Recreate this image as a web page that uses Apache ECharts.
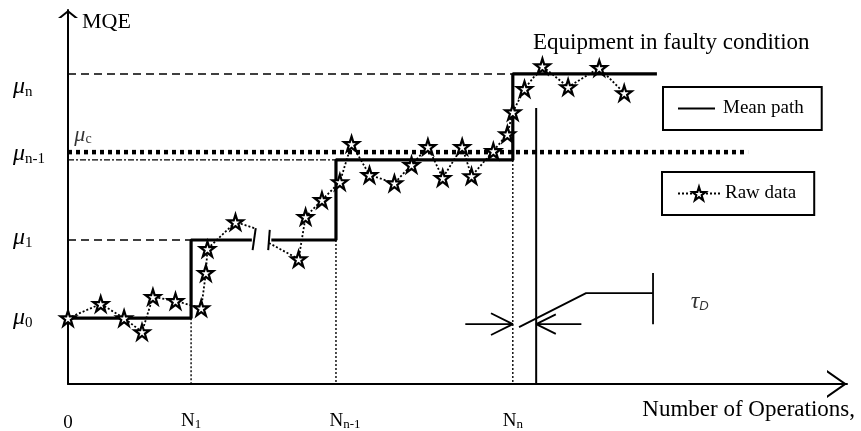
<!DOCTYPE html>
<html>
<head>
<meta charset="utf-8">
<script src="https://cdn.jsdelivr.net/npm/echarts@6/dist/echarts.min.js"></script>
<style>
  html, body { margin: 0; padding: 0; background: #ffffff; }
  #chart { width: 861px; height: 431px; }
</style>
</head>
<body>
<div id="chart"></div>
<script>
// MQE degradation schematic: operation count on x, MQE on y (0..100 chart units)
const changePoints = [15.8, 34.4, 57.1];            // N1, Nn-1, Nn
const changeSubs = ['1', 'n-1', 'n'];
const meanLevels = [17.6, 38.5, 59.9, 82.9];        // μ0, μ1, μn-1, μn
const levelSubs = ['0', '1', 'n-1', 'n'];
const meanPathEnd = 75.6;
const axisBreak = [23.6, 26.1];
const criticalLevel = 62.0;                         // μc
const criticalLineEnd = 87.3;
const faultOnset = 60.1;
const faultLineTop = 73.8;

// raw MQE samples
const rawX = [0, 4.2, 7.2, 9.5, 10.9, 13.8, 17.1, 17.7, 17.9, 21.5,
              29.6, 30.5, 32.6, 34.9, 36.4, 38.7, 41.9, 44.1, 46.2, 48.1,
              50.6, 51.8, 54.6, 56.4, 57.1, 58.6, 60.9, 64.2, 68.2, 71.4];
const rawY = [17.6, 21.4, 17.6, 13.9, 23.3, 22.2, 20.3, 29.7, 36.1, 43.3,
              33.4, 44.7, 49.2, 54.0, 64.2, 55.9, 53.7, 58.6, 63.4, 55.1,
              63.4, 55.6, 62.3, 66.8, 72.7, 78.9, 85.0, 79.4, 84.5, 77.8];
const rawBreakAfter = 9;
const rawBreakEnds = [[23.9, 41.7], [25.8, 37.7]];
const breakMarks = [[[24.1, 41.7], [23.7, 35.8]], [[25.9, 41.2], [25.7, 35.8]]];

// detection delay τD
const delayY = 16.0;
const delayArrowTails = [51.0, 65.9];
const delayLeader = [[57.9, 15.2], [66.5, 24.3], [75.1, 24.3]];
const delayTick = [[75.1, 29.7], [75.1, 16.0]];
const delayLabelAt = [81.1, 21.9];
const criticalLabelAt = [0.3, 66.6];

const FONT = '"Liberation Serif", "Times New Roman", serif';
const BLACK = '#000000';
const STAR = 'path://M50,0 L61.2,34.5 L97.6,34.5 L68.2,55.9 L79.4,90.5 L50,69.1 L20.6,90.5 L31.8,55.9 L2.4,34.5 L38.8,34.5 Z';
const X_HEAD = 'path://M0,20 L14,0 L28,20 L25.6,20 L14,3.5 L2.4,20 Z';
const Y_HEAD = 'path://M0,8 L10,0 L20,8 L16.8,8 L10,2.6 L3.2,8 Z';

// stepped mean path with a gap at the axis break
const meanPath = [[0, meanLevels[0]]];
changePoints.forEach((x, i) => {
  meanPath.push([x, meanLevels[i]]);
  meanPath.push([x, meanLevels[i + 1]]);
  if (i === 0) {
    meanPath.push([axisBreak[0], meanLevels[1]]);
    meanPath.push([null, null]);
    meanPath.push([axisBreak[1], meanLevels[1]]);
  }
});
meanPath.push([meanPathEnd, meanLevels[3]]);

const rawData = [];
rawX.forEach((x, i) => {
  rawData.push([x, rawY[i]]);
  if (i === rawBreakAfter) {
    rawData.push({ value: rawBreakEnds[0], symbol: 'none' });
    rawData.push([null, null]);
    rawData.push({ value: rawBreakEnds[1], symbol: 'none' });
  }
});

const gap = [null, null];
const dropLines = [
  [changePoints[0], meanLevels[0]], [changePoints[0], 0], gap,
  [changePoints[1], meanLevels[1]], [changePoints[1], 0], gap,
  [changePoints[2], meanLevels[2]], [changePoints[2], 0]
];

const headLen = 2.8, headHalf = 2.9;
const delayLines = [
  [delayArrowTails[0], delayY], [changePoints[2], delayY], gap,
  [changePoints[2] - headLen, delayY + headHalf], [changePoints[2], delayY], [changePoints[2] - headLen, delayY - headHalf], gap,
  [delayArrowTails[1], delayY], [faultOnset, delayY], gap,
  [faultOnset + headLen * 0.9, delayY + headHalf * 0.9], [faultOnset, delayY], [faultOnset + headLen * 0.9, delayY - headHalf * 0.9], gap,
  ...delayLeader, gap,
  ...delayTick
];

function plainLine(data, lineStyle, extra) {
  return Object.assign({
    type: 'line', data: data, symbol: 'none', silent: true, animation: false,
    lineStyle: Object.assign({ color: BLACK }, lineStyle)
  }, extra || {});
}

// y labels: per-label vertical shift (px) and subscript drop
const yShift = [0, -2, -6, 13];
const yRich = {};
levelSubs.forEach((s, i) => {
  const sh = yShift[i];
  yRich['m' + i] = { fontFamily: FONT, fontStyle: 'italic', fontSize: 24, color: BLACK,
    padding: sh >= 0 ? [2 * sh, 0, 0, 0] : [0, 0, -2 * sh, 0] };
  const ss = sh + 5;
  yRich['s' + i] = { fontFamily: FONT, fontSize: 15, color: BLACK,
    padding: ss >= 0 ? [2 * ss, 0, 0, 0] : [0, 0, -2 * ss, 0] };
});

const xRich = {
  z: { fontFamily: FONT, fontSize: 19, color: BLACK, padding: [3, 0, 0, 0] },
  n: { fontFamily: FONT, fontSize: 19, color: BLACK },
  nw: { fontFamily: FONT, fontSize: 19, color: BLACK, padding: [0, 0, 0, 18] },
  s: { fontFamily: FONT, fontSize: 13, color: BLACK, padding: [7, 0, 0, 0] }
};

const option = {
  backgroundColor: '#ffffff',
  animation: false,
  title: {
    text: 'Equipment in faulty condition',
    left: 533, top: 31, padding: 0,
    textStyle: { fontFamily: FONT, fontSize: 23, fontWeight: 'normal', color: BLACK }
  },
  legend: [
    {
      data: ['Mean path'], left: 663, top: 87, orient: 'horizontal',
      selectedMode: false, borderColor: BLACK, borderWidth: 2, borderRadius: 0,
      padding: [12, 18, 12, 15], itemWidth: 37, itemHeight: 2, icon: 'rect',
      itemStyle: { color: BLACK },
      textStyle: { fontFamily: FONT, fontSize: 19, color: BLACK, padding: [0, 0, 0, 3] }
    },
    {
      data: ['Raw data'], left: 662, top: 172, orient: 'horizontal',
      selectedMode: false, borderColor: BLACK, borderWidth: 2, borderRadius: 0,
      padding: [12, 18, 12, 15], itemWidth: 42, itemHeight: 17,
      textStyle: { fontFamily: FONT, fontSize: 19, color: BLACK }
    }
  ],
  grid: { left: 68, right: 14, top: 10, bottom: 47, containLabel: false, outerBoundsMode: 'none' },
  xAxis: {
    type: 'value', min: 0, max: 100,
    name: '{a|Number of Operations,}', nameLocation: 'end', nameGap: 8,
    nameTextStyle: { align: 'right', verticalAlign: 'middle',
      rich: { a: { fontFamily: FONT, fontSize: 23, color: BLACK, padding: [52, 0, 0, 0] } } },
    axisLine: { show: true, lineStyle: { color: BLACK, width: 2 }, symbol: ['none', X_HEAD], symbolSize: [28, 20], symbolOffset: [0, -10] },
    axisTick: { show: false },
    splitLine: { show: false },
    axisLabel: {
      show: true, margin: 27, customValues: [0].concat(changePoints),
      formatter: function (v) {
        const i = changePoints.indexOf(v);
        if (i < 0) return '{z|0}';
        return (i === 1 ? '{nw|N}' : '{n|N}') + '{s|' + changeSubs[i] + '}';
      },
      rich: xRich
    }
  },
  yAxis: {
    type: 'value', min: 0, max: 100,
    name: 'MQE', nameLocation: 'end', nameGap: -12,
    nameTextStyle: { fontFamily: FONT, fontSize: 22, color: BLACK, align: 'left', verticalAlign: 'middle', padding: [0, 0, 0, 14] },
    axisLine: { show: true, lineStyle: { color: BLACK, width: 2 }, symbol: ['none', Y_HEAD], symbolSize: [20, 8], symbolOffset: [0, -4] },
    axisTick: { show: false },
    splitLine: { show: false },
    axisLabel: {
      show: true, margin: 55, align: 'left', customValues: meanLevels,
      formatter: function (v) {
        const i = meanLevels.indexOf(v);
        return '{m' + i + '|μ}{s' + i + '|' + levelSubs[i] + '}';
      },
      rich: yRich
    }
  },
  series: [
    plainLine([[0, meanLevels[3]], [changePoints[2], meanLevels[3]]], { width: 1.4, type: [8, 5] }),
    plainLine([[0, meanLevels[2]], [changePoints[1], meanLevels[2]]], { width: 1.2, type: [6, 2, 2, 2] }),
    plainLine([[0, meanLevels[1]], [changePoints[0], meanLevels[1]]], { width: 1.4, type: [8, 5] }),
    plainLine(dropLines, { width: 1.4, type: [2, 2] }),
    plainLine([[0, criticalLevel], [criticalLineEnd, criticalLevel]], { width: 4.5, type: [4, 4] }, { z: 3 }),
    plainLine([[faultOnset, 0], [faultOnset, faultLineTop]], { width: 2 }),
    plainLine(delayLines, { width: 1.8 }),
    plainLine(breakMarks[0], { width: 2 }),
    plainLine(breakMarks[1], { width: 2 }),
    {
      name: 'Mean path', type: 'line', data: meanPath, symbol: 'none', silent: true, z: 4,
      itemStyle: { color: BLACK },
      lineStyle: { color: BLACK, width: 3.2 }
    },
    {
      name: 'Raw data', type: 'line', data: rawData, silent: true, z: 5,
      symbol: STAR, symbolSize: 15, showSymbol: true,
      itemStyle: { color: '#ffffff', borderColor: BLACK, borderWidth: 2.2 },
      lineStyle: { color: BLACK, width: 1.8, type: [2, 2] }
    },
    {
      type: 'scatter', silent: true, symbolSize: 0, z: 6,
      data: [
        { value: criticalLabelAt, label: { show: true, position: 'right', distance: 4,
          formatter: '{m|μ}{s|c}',
          rich: { m: { fontFamily: FONT, fontStyle: 'italic', fontSize: 22, color: BLACK },
                  s: { fontFamily: FONT, fontSize: 14, color: BLACK, padding: [8, 0, 0, 0] } } } },
        { value: delayLabelAt, label: { show: true, position: 'inside',
          formatter: '{t|τ}{d|D}',
          rich: { t: { fontFamily: FONT, fontStyle: 'italic', fontSize: 24, color: BLACK },
                  d: { fontFamily: '"Liberation Sans", Arial, sans-serif', fontStyle: 'italic', fontSize: 13, color: BLACK, padding: [8, 0, 0, 0] } } } }
      ]
    }
  ]
};

const chart = echarts.init(document.getElementById('chart'), null, { renderer: 'canvas' });
chart.setOption(option);
</script>
</body>
</html>
